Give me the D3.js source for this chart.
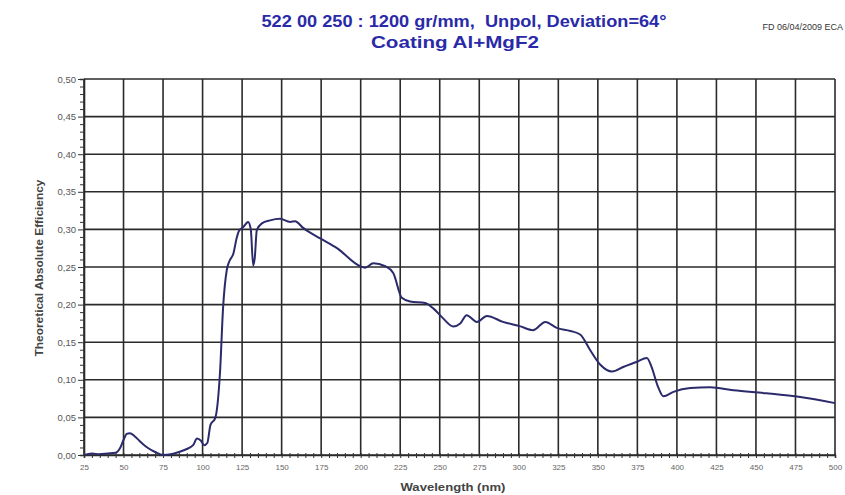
<!DOCTYPE html>
<html><head><meta charset="utf-8">
<script src="https://cdn.jsdelivr.net/npm/d3@7"></script>
<style>body{margin:0;background:#fff}svg{display:block}</style>
</head><body>
<script>
const wavelength = [25,30,35,40,45,48,50,52,54,57,60,65,70,75,80,85,90,94,96.5,99,101,103,105,108,111,113,115.3,117,119.5,121.6,123,125.7,128.8,130.5,132,133,134.3,137.5,142.7,149,155.4,158.5,163.6,174.4,185,199.7,202.8,208,215.5,220.6,226,231.3,240.8,245.9,252,258.5,263,267,273.5,279.8,290,301,309,316.8,324,332.6,339,345,351.6,359,366,374.8,381,384,388,391.5,397.8,408.5,421,435.8,456.7,478,500];
const efficiency = [0.000,0.002,0.001,0.002,0.003,0.010,0.020,0.028,0.029,0.025,0.019,0.010,0.004,0.000,0.001,0.004,0.008,0.013,0.022,0.019,0.013,0.016,0.040,0.049,0.109,0.197,0.246,0.258,0.268,0.289,0.298,0.303,0.310,0.300,0.252,0.262,0.299,0.308,0.312,0.314,0.310,0.311,0.302,0.288,0.275,0.251,0.249,0.255,0.251,0.242,0.209,0.204,0.202,0.195,0.182,0.171,0.175,0.186,0.177,0.185,0.177,0.171,0.166,0.177,0.169,0.165,0.160,0.140,0.120,0.111,0.117,0.124,0.129,0.117,0.091,0.078,0.084,0.089,0.090,0.086,0.082,0.077,0.069];
const xTicks = [25,50,75,100,125,150,175,200,225,250,275,300,325,350,375,400,425,450,475,500];
const yTicks = [0,0.05,0.10,0.15,0.20,0.25,0.30,0.35,0.40,0.45,0.50];
const titleLine1 = "522 00 250 : 1200 gr/mm,\u00a0 Unpol, Deviation=64°";
const titleLine2 = "Coating Al+MgF2";
const stamp = "FD 06/04/2009 ECA";
const xTitle = "Wavelength (nm)";
const yTitle = "Theoretical Absolute Efficiency";

const W = 845, H = 495;
const L = 84, R = 835, T = 79, B = 455;
const svg = d3.select("body").append("svg").attr("width", W).attr("height", H);
const x = d3.scaleLinear().domain([25,500]).range([L,R]);
const y = d3.scaleLinear().domain([0,0.5]).range([B,T]);

// grid
const g = svg.append("g");
g.selectAll(".vg").data(xTicks).enter().append("line")
  .attr("x1", d=>x(d)).attr("x2", d=>x(d)).attr("y1", T).attr("y2", B)
  .attr("stroke", "#2a2a2a").attr("stroke-width", 1.6);
g.selectAll(".hg").data(yTicks).enter().append("line")
  .attr("x1", L).attr("x2", R).attr("y1", d=>y(d)).attr("y2", d=>y(d))
  .attr("stroke", "#2a2a2a").attr("stroke-width", 1.6);

// axes
const yMinor = d3.range(0, 0.5001, 0.01);
const xMinor = d3.range(25, 500.1, 5);
const isMajorY = d => yTicks.some(t=>Math.abs(t-d)<1e-9);
const yAxis = d3.axisLeft(y).tickValues(yMinor).tickSize(4)
  .tickFormat(d => isMajorY(d) ? d3.format(".2f")(d).replace(".", ",") : "");
const ya = svg.append("g").attr("transform", `translate(${L},0)`).call(yAxis);
ya.select(".domain").attr("stroke", "#2a2a2a").attr("stroke-width", 1.6);
ya.selectAll(".tick line").attr("stroke", "#333").attr("x2", d => isMajorY(d) ? -6 : -4);
ya.selectAll("text").attr("font-family", "Liberation Sans, Arial, sans-serif").attr("font-size", 9.5).attr("fill", "#555").attr("x", -8);

const xAxis = d3.axisBottom(x).tickValues(xMinor).tickSize(3)
  .tickFormat(d => xTicks.includes(d) ? d : "");
const xa = svg.append("g").attr("transform", `translate(0,${B})`).call(xAxis);
xa.select(".domain").attr("stroke", "#2a2a2a").attr("stroke-width", 1.6);
xa.selectAll(".tick line").attr("stroke", "#333").attr("y1", -2).attr("y2", 3);
xa.selectAll("text").attr("font-family", "Liberation Sans, Arial, sans-serif").attr("font-size", 8).attr("fill", "#666").attr("y", 9);

// curve
const pts = wavelength.map((w,i)=>[w, efficiency[i]]);
svg.append("path").datum(pts)
  .attr("d", d3.line().x(d=>x(d[0])).y(d=>y(d[1])).curve(d3.curveMonotoneX))
  .attr("fill", "none").attr("stroke", "#2b2b6b").attr("stroke-width", 2);

// titles
const font = "Liberation Sans, Arial, sans-serif";
svg.append("text").attr("x", 464).attr("y", 27).attr("text-anchor", "middle")
  .attr("font-family", font).attr("font-weight", "bold").attr("font-size", 17).attr("fill", "#2a2aa8")
  .attr("textLength", 405).attr("lengthAdjust", "spacingAndGlyphs").text(titleLine1);
svg.append("text").attr("x", 455).attr("y", 48).attr("text-anchor", "middle")
  .attr("font-family", font).attr("font-weight", "bold").attr("font-size", 17).attr("fill", "#2a2aa8")
  .attr("textLength", 168).attr("lengthAdjust", "spacingAndGlyphs").text(titleLine2);
svg.append("text").attr("x", 843).attr("y", 30).attr("text-anchor", "end")
  .attr("font-family", font).attr("font-size", 9).attr("fill", "#333").text(stamp);
svg.append("text").attr("x", 453).attr("y", 491).attr("text-anchor", "middle")
  .attr("font-family", font).attr("font-weight", "bold").attr("font-size", 11).attr("fill", "#444")
  .attr("textLength", 105).attr("lengthAdjust", "spacingAndGlyphs").text(xTitle);
svg.append("text").attr("transform", "translate(43,268) rotate(-90)").attr("text-anchor", "middle")
  .attr("font-family", font).attr("font-weight", "bold").attr("font-size", 11).attr("fill", "#444")
  .attr("textLength", 177).attr("lengthAdjust", "spacingAndGlyphs").text(yTitle);
</script>
</body></html>
